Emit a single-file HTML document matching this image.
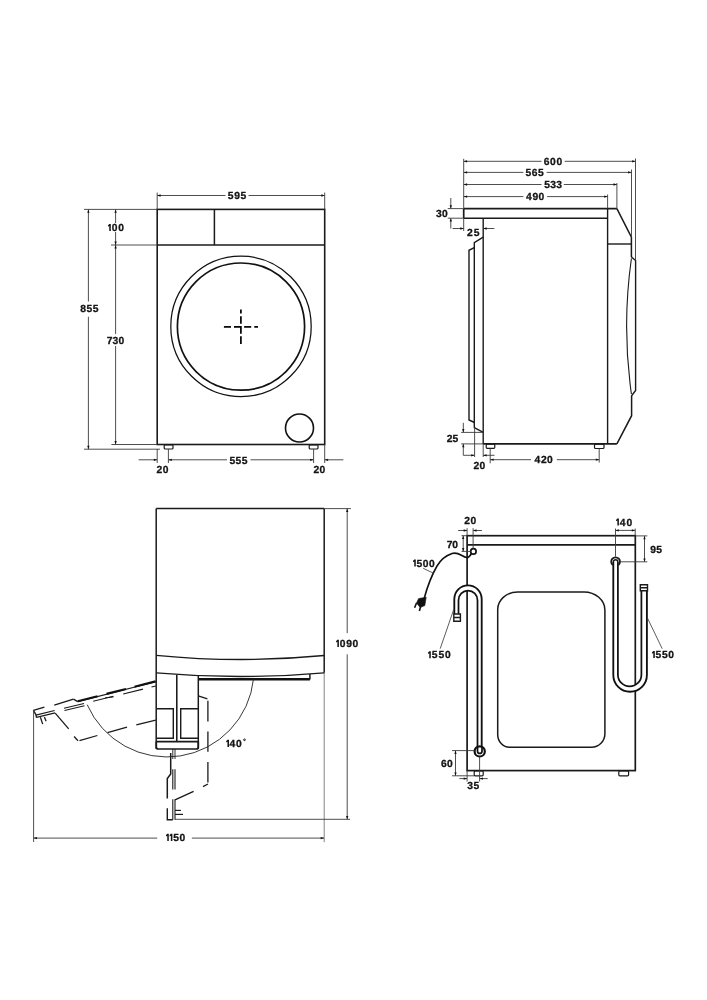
<!DOCTYPE html>
<html><head><meta charset="utf-8"><title>Washing machine dimensions</title>
<style>
html,body{margin:0;padding:0;background:#fff;width:707px;height:1000px;overflow:hidden}
svg{display:block;will-change:transform}
text{font-family:"Liberation Sans",sans-serif;font-weight:bold;font-size:10.3px;fill:#151515;stroke:#151515;stroke-width:0.3px;text-rendering:geometricPrecision}
.h{fill:none;stroke:none}
</style></head><body>
<svg width="707" height="1000" viewBox="0 0 707 1000" stroke-linecap="butt">

<rect x="157.2" y="209.4" width="167.5" height="235.1" rx="0" stroke="#1a1a1a" stroke-width="1.6" fill="none"/>
<line x1="157.2" y1="245" x2="324.7" y2="245" stroke="#1a1a1a" stroke-width="1.5"/>
<line x1="214.4" y1="209.4" x2="214.4" y2="245" stroke="#1a1a1a" stroke-width="1.5"/>
<circle cx="241" cy="326.4" r="70.2" stroke="#111" stroke-width="1.25" fill="none"/>
<circle cx="241" cy="326.6" r="63.6" stroke="#111" stroke-width="1.7" fill="none"/>
<line x1="223.9" y1="326.9" x2="231.0" y2="326.9" stroke="#000" stroke-width="1.7"/>
<line x1="244.1" y1="326.9" x2="251.2" y2="326.9" stroke="#000" stroke-width="1.7"/>
<line x1="254.3" y1="326.9" x2="258.0" y2="326.9" stroke="#000" stroke-width="1.7"/>
<path d="M234 326.9 H240.9 V333.8" stroke="#000" stroke-width="1.7" fill="none"/>
<line x1="240.9" y1="309.5" x2="240.9" y2="313.6" stroke="#000" stroke-width="1.7"/>
<line x1="240.9" y1="316.3" x2="240.9" y2="323.7" stroke="#000" stroke-width="1.7"/>
<line x1="240.9" y1="336.2" x2="240.9" y2="343.9" stroke="#000" stroke-width="1.7"/>
<circle cx="299.5" cy="428" r="14" stroke="#111" stroke-width="1.6" fill="none"/>
<rect x="164.2" y="444.8" width="8.800000000000011" height="4.199999999999989" rx="1" stroke="#1a1a1a" stroke-width="1.2" fill="none"/>
<rect x="309.2" y="444.8" width="8.800000000000011" height="4.199999999999989" rx="1" stroke="#1a1a1a" stroke-width="1.2" fill="none"/>
<line x1="157.2" y1="195.5" x2="225.5" y2="195.5" stroke="#3a3a3a" stroke-width="0.9"/>
<line x1="248.5" y1="195.5" x2="324.7" y2="195.5" stroke="#3a3a3a" stroke-width="0.9"/>
<polygon points="157.20,195.50 160.60,194.35 160.60,196.65" fill="#111"/>
<polygon points="324.70,195.50 321.30,194.35 321.30,196.65" fill="#111"/>
<line x1="157.2" y1="192.6" x2="157.2" y2="209.4" stroke="#3a3a3a" stroke-width="0.9"/>
<line x1="324.7" y1="192.6" x2="324.7" y2="209.4" stroke="#3a3a3a" stroke-width="0.9"/>
<text x="227.76 234.15 240.48" y="199.29">595</text>
<line x1="88.4" y1="209.4" x2="88.4" y2="301.5" stroke="#3a3a3a" stroke-width="0.9"/>
<line x1="88.4" y1="316.7" x2="88.4" y2="449.2" stroke="#3a3a3a" stroke-width="0.9"/>
<polygon points="88.40,209.40 87.25,212.80 89.55,212.80" fill="#111"/>
<polygon points="88.40,449.20 87.25,445.80 89.55,445.80" fill="#111"/>
<line x1="84" y1="209.4" x2="157.2" y2="209.4" stroke="#3a3a3a" stroke-width="0.9"/>
<line x1="84" y1="449.2" x2="160" y2="449.2" stroke="#3a3a3a" stroke-width="0.9"/>
<text x="80.15 86.40 92.68" y="311.54">855</text>
<line x1="115.6" y1="209.4" x2="115.6" y2="223" stroke="#3a3a3a" stroke-width="0.9"/>
<line x1="115.6" y1="232" x2="115.6" y2="245" stroke="#3a3a3a" stroke-width="0.9"/>
<polygon points="115.60,209.40 114.45,212.80 116.75,212.80" fill="#111"/>
<polygon points="115.60,245.00 114.45,241.60 116.75,241.60" fill="#111"/>
<line x1="111" y1="245" x2="157.2" y2="245" stroke="#3a3a3a" stroke-width="0.9"/>
<text x="107.25 111.67 118.22" y="231.04"><tspan class="h">1</tspan>00</text><g fill="#151515"><path d="M109.26 223.96 H110.80 V231.04 H109.26 V225.92 L108.18 226.67 L107.90 225.45 Z"/></g>
<line x1="115.6" y1="245" x2="115.6" y2="334.1" stroke="#3a3a3a" stroke-width="0.9"/>
<line x1="115.6" y1="346" x2="115.6" y2="444.5" stroke="#3a3a3a" stroke-width="0.9"/>
<polygon points="115.60,245.00 114.45,248.40 116.75,248.40" fill="#111"/>
<polygon points="115.60,444.50 114.45,441.10 116.75,441.10" fill="#111"/>
<line x1="111.4" y1="444.5" x2="157.2" y2="444.5" stroke="#3a3a3a" stroke-width="0.9"/>
<text x="106.63 112.62 118.52" y="343.54">730</text>
<line x1="138.6" y1="459.8" x2="157.2" y2="459.8" stroke="#3a3a3a" stroke-width="0.9"/>
<polygon points="157.20,459.80 153.80,458.65 153.80,460.95" fill="#111"/>
<line x1="168.4" y1="459.8" x2="227" y2="459.8" stroke="#3a3a3a" stroke-width="0.9"/>
<polygon points="168.40,459.80 171.80,458.65 171.80,460.95" fill="#111"/>
<line x1="250.5" y1="459.8" x2="313.6" y2="459.8" stroke="#3a3a3a" stroke-width="0.9"/>
<polygon points="313.60,459.80 310.20,458.65 310.20,460.95" fill="#111"/>
<line x1="324.7" y1="459.8" x2="343.4" y2="459.8" stroke="#3a3a3a" stroke-width="0.9"/>
<polygon points="324.70,459.80 328.10,458.65 328.10,460.95" fill="#111"/>
<line x1="157.2" y1="449" x2="157.2" y2="463" stroke="#3a3a3a" stroke-width="0.9"/>
<line x1="168.4" y1="449" x2="168.4" y2="463" stroke="#3a3a3a" stroke-width="0.9"/>
<line x1="313.6" y1="449" x2="313.6" y2="463" stroke="#3a3a3a" stroke-width="0.9"/>
<line x1="324.7" y1="444.5" x2="324.7" y2="463" stroke="#3a3a3a" stroke-width="0.9"/>
<text x="156.62 162.72" y="472.84">20</text>
<text x="229.56 235.62 241.68" y="464.34">555</text>
<text x="313.42 319.42" y="472.89">20</text>
<line x1="463.7" y1="208.6" x2="616.9" y2="208.6" stroke="#1a1a1a" stroke-width="1.7"/>
<line x1="463.7" y1="208.6" x2="463.7" y2="218.2" stroke="#1a1a1a" stroke-width="1.7"/>
<line x1="463.7" y1="218.2" x2="607.6" y2="218.2" stroke="#1a1a1a" stroke-width="1.4"/>
<path d="M616.9 208.6 L631.4 237.2 V257" stroke="#1a1a1a" stroke-width="1.5" fill="none"/>
<line x1="607.6" y1="244" x2="631.4" y2="244" stroke="#1a1a1a" stroke-width="1.4"/>
<line x1="607.6" y1="208.6" x2="607.6" y2="443.9" stroke="#1a1a1a" stroke-width="1.4"/>
<line x1="483.2" y1="218.2" x2="483.2" y2="443.9" stroke="#1a1a1a" stroke-width="1.4"/>
<line x1="483.2" y1="443.9" x2="616.9" y2="443.9" stroke="#1a1a1a" stroke-width="1.7"/>
<path d="M616.9 443.9 L631.6 415.7 V396" stroke="#1a1a1a" stroke-width="1.5" fill="none"/>
<path d="M631.4 257 L635.6 260.5 V390.5 L631.4 396" stroke="#1a1a1a" stroke-width="1.4" fill="none"/>
<path d="M631.4 258.5 Q621.8 326 631.4 394" stroke="#1a1a1a" stroke-width="1.1" fill="none"/>
<path d="M483.2 237.2 L474.3 242.6 V427.5 L483.2 432.4" stroke="#1a1a1a" stroke-width="1.4" fill="none"/>
<path d="M474.3 247.7 L469 250.3 V420 L474.5 422.5" stroke="#1a1a1a" stroke-width="1.4" fill="none"/>
<rect x="486.2" y="444.2" width="8.600000000000023" height="4.100000000000023" rx="1" stroke="#1a1a1a" stroke-width="1.2" fill="none"/>
<rect x="594.5" y="444.2" width="9.5" height="4.300000000000011" rx="1" stroke="#1a1a1a" stroke-width="1.2" fill="none"/>
<line x1="463.7" y1="161.3" x2="541.5" y2="161.3" stroke="#3a3a3a" stroke-width="0.9"/>
<line x1="564.7" y1="161.3" x2="635.5" y2="161.3" stroke="#3a3a3a" stroke-width="0.9"/>
<polygon points="463.70,161.30 467.10,160.15 467.10,162.45" fill="#111"/>
<polygon points="635.50,161.30 632.10,160.15 632.10,162.45" fill="#111"/>
<text x="543.70 550.08 556.42" y="164.99">600</text>
<line x1="463.7" y1="172.4" x2="523.4" y2="172.4" stroke="#3a3a3a" stroke-width="0.9"/>
<line x1="546.6" y1="172.4" x2="631.5" y2="172.4" stroke="#3a3a3a" stroke-width="0.9"/>
<polygon points="463.70,172.40 467.10,171.25 467.10,173.55" fill="#111"/>
<polygon points="631.50,172.40 628.10,171.25 628.10,173.55" fill="#111"/>
<text x="525.56 531.78 537.98" y="176.24">565</text>
<line x1="463.7" y1="184.5" x2="541.5" y2="184.5" stroke="#3a3a3a" stroke-width="0.9"/>
<line x1="563.8" y1="184.5" x2="616.9" y2="184.5" stroke="#3a3a3a" stroke-width="0.9"/>
<polygon points="463.70,184.50 467.10,183.35 467.10,185.65" fill="#111"/>
<polygon points="616.90,184.50 613.50,183.35 613.50,185.65" fill="#111"/>
<text x="544.26 550.26 556.17" y="188.19">533</text>
<line x1="463.7" y1="196.6" x2="523.4" y2="196.6" stroke="#3a3a3a" stroke-width="0.9"/>
<line x1="547.1" y1="196.6" x2="607.6" y2="196.6" stroke="#3a3a3a" stroke-width="0.9"/>
<polygon points="463.70,196.60 467.10,195.45 467.10,197.75" fill="#111"/>
<polygon points="607.60,196.60 604.20,195.45 604.20,197.75" fill="#111"/>
<text x="526.12 532.46 538.42" y="200.49">490</text>
<line x1="463.7" y1="158.8" x2="463.7" y2="208.6" stroke="#3a3a3a" stroke-width="0.9"/>
<line x1="635.5" y1="158.5" x2="635.5" y2="260.5" stroke="#3a3a3a" stroke-width="0.9"/>
<line x1="631.5" y1="169.5" x2="631.5" y2="237.2" stroke="#3a3a3a" stroke-width="0.9"/>
<line x1="616.9" y1="183" x2="616.9" y2="208.6" stroke="#3a3a3a" stroke-width="0.9"/>
<line x1="607.6" y1="194.5" x2="607.6" y2="208.6" stroke="#3a3a3a" stroke-width="0.9"/>
<line x1="450.8" y1="198" x2="450.8" y2="208.6" stroke="#3a3a3a" stroke-width="0.9"/>
<polygon points="450.80,208.60 449.65,205.20 451.95,205.20" fill="#111"/>
<line x1="450.8" y1="218.2" x2="450.8" y2="228.5" stroke="#3a3a3a" stroke-width="0.9"/>
<polygon points="450.80,218.20 449.65,221.60 451.95,221.60" fill="#111"/>
<line x1="447.7" y1="208.6" x2="463.7" y2="208.6" stroke="#3a3a3a" stroke-width="0.9"/>
<line x1="447.7" y1="218.2" x2="463.7" y2="218.2" stroke="#3a3a3a" stroke-width="0.9"/>
<text x="436.04 442.12" y="216.84">30</text>
<line x1="452.6" y1="228.5" x2="463.7" y2="228.5" stroke="#3a3a3a" stroke-width="0.9"/>
<polygon points="463.70,228.50 460.30,227.35 460.30,229.65" fill="#111"/>
<line x1="483.2" y1="228.5" x2="494.4" y2="228.5" stroke="#3a3a3a" stroke-width="0.9"/>
<polygon points="483.20,228.50 486.60,227.35 486.60,229.65" fill="#111"/>
<line x1="463.7" y1="218.2" x2="463.7" y2="231" stroke="#3a3a3a" stroke-width="0.9"/>
<text x="466.92 473.78" y="236.44">25</text>
<line x1="463.3" y1="422.8" x2="463.3" y2="432.4" stroke="#3a3a3a" stroke-width="0.9"/>
<polygon points="463.30,432.40 462.15,429.00 464.45,429.00" fill="#111"/>
<line x1="463.3" y1="443.9" x2="463.3" y2="455.3" stroke="#3a3a3a" stroke-width="0.9"/>
<polygon points="463.30,443.90 462.15,447.30 464.45,447.30" fill="#111"/>
<line x1="461.2" y1="432.4" x2="483.2" y2="432.4" stroke="#3a3a3a" stroke-width="0.9"/>
<line x1="461.2" y1="443.9" x2="483.2" y2="443.9" stroke="#3a3a3a" stroke-width="0.9"/>
<text x="446.72 452.38" y="442.19">25</text>
<line x1="463.3" y1="455.3" x2="474.6" y2="455.3" stroke="#3a3a3a" stroke-width="0.9"/>
<polygon points="474.60,455.30 471.20,454.15 471.20,456.45" fill="#111"/>
<line x1="483.2" y1="455.3" x2="494.5" y2="455.3" stroke="#3a3a3a" stroke-width="0.9"/>
<polygon points="483.20,455.30 486.60,454.15 486.60,456.45" fill="#111"/>
<line x1="474.6" y1="427.5" x2="474.6" y2="457" stroke="#3a3a3a" stroke-width="0.9"/>
<line x1="483.2" y1="443.9" x2="483.2" y2="457" stroke="#3a3a3a" stroke-width="0.9"/>
<text x="473.62 479.42" y="468.99">20</text>
<line x1="490.2" y1="459.7" x2="531" y2="459.7" stroke="#3a3a3a" stroke-width="0.9"/>
<polygon points="490.20,459.70 493.60,458.55 493.60,460.85" fill="#111"/>
<line x1="556.8" y1="459.7" x2="599.2" y2="459.7" stroke="#3a3a3a" stroke-width="0.9"/>
<polygon points="599.20,459.70 595.80,458.55 595.80,460.85" fill="#111"/>
<line x1="490.2" y1="448.3" x2="490.2" y2="463.3" stroke="#3a3a3a" stroke-width="0.9"/>
<line x1="599.2" y1="448.5" x2="599.2" y2="462.6" stroke="#3a3a3a" stroke-width="0.9"/>
<text x="534.42 540.97 547.12" y="463.39">420</text>
<line x1="156.2" y1="508.6" x2="324.2" y2="508.6" stroke="#1a1a1a" stroke-width="1.5"/>
<line x1="156.2" y1="508.6" x2="156.2" y2="749" stroke="#1a1a1a" stroke-width="1.5"/>
<line x1="324.2" y1="508.6" x2="324.2" y2="672.8" stroke="#1a1a1a" stroke-width="1.5"/>
<line x1="324.2" y1="672.8" x2="324.2" y2="842.2" stroke="#777" stroke-width="0.9"/>
<path d="M156.2 655.3 Q240.2 663.6 324.2 655.5" stroke="#1a1a1a" stroke-width="1.3" fill="none"/>
<path d="M156.2 672.8 Q240.2 680.2 324.2 672.8" stroke="#1a1a1a" stroke-width="1.3" fill="none"/>
<line x1="198" y1="679.2" x2="309.9" y2="679.2" stroke="#111" stroke-width="2.4"/>
<path d="M309.9 679.6 V674.1" stroke="#1a1a1a" stroke-width="1.5" fill="none"/>
<line x1="198.3" y1="675.5" x2="198.3" y2="749" stroke="#1a1a1a" stroke-width="1.5"/>
<line x1="176.8" y1="675" x2="176.8" y2="741.6" stroke="#111" stroke-width="1.5"/>
<path d="M156.3 708.8 H173.3 V738.2 H156.3" stroke="#1a1a1a" stroke-width="1.4" fill="none"/>
<path d="M198.3 708.8 H180.7 V738.2 H198.3" stroke="#1a1a1a" stroke-width="1.4" fill="none"/>
<line x1="156.3" y1="741.6" x2="198.3" y2="741.6" stroke="#1a1a1a" stroke-width="1.6"/>
<path d="M156.3 741.6 V747 Q156.3 749 158.3 749 H196.3 Q198.3 749 198.3 747 V741.6" stroke="#1a1a1a" stroke-width="1.7" fill="none"/>
<line x1="172.8" y1="749" x2="172.8" y2="759" stroke="#1a1a1a" stroke-width="0.9"/>
<line x1="175" y1="749" x2="175" y2="759" stroke="#1a1a1a" stroke-width="0.9"/>
<line x1="198.3" y1="695.8" x2="207.4" y2="698.8" stroke="#1a1a1a" stroke-width="1.3"/>
<line x1="207.9" y1="700.8" x2="207.9" y2="721.6" stroke="#1a1a1a" stroke-width="1.3"/>
<line x1="207.9" y1="731.5" x2="207.9" y2="751.8" stroke="#1a1a1a" stroke-width="1.3"/>
<line x1="207.9" y1="762" x2="207.9" y2="782.4" stroke="#1a1a1a" stroke-width="1.3"/>
<line x1="208" y1="784" x2="203" y2="786.6" stroke="#1a1a1a" stroke-width="1.3"/>
<line x1="193.6" y1="791.3" x2="175" y2="799.8" stroke="#1a1a1a" stroke-width="1.3"/>
<line x1="172.8" y1="799.3" x2="172.8" y2="819.7" stroke="#1a1a1a" stroke-width="1.1"/>
<line x1="175" y1="799.3" x2="175" y2="819.7" stroke="#1a1a1a" stroke-width="1.1"/>
<line x1="175" y1="810.4" x2="180.9" y2="810.4" stroke="#1a1a1a" stroke-width="1.2"/>
<line x1="175" y1="814.4" x2="183" y2="814.4" stroke="#1a1a1a" stroke-width="1.2"/>
<path d="M170.7 753 V773.9 L167.3 778.5 V798.5" stroke="#1a1a1a" stroke-width="1.5" fill="none"/>
<path d="M167.3 808.2 V819.7 H172.8" stroke="#1a1a1a" stroke-width="1.4" fill="none"/>
<line x1="172.8" y1="769.2" x2="172.8" y2="789.6" stroke="#1a1a1a" stroke-width="1.1"/>
<line x1="175" y1="769.2" x2="175" y2="789.6" stroke="#1a1a1a" stroke-width="1.1"/>
<line x1="77.7" y1="701.6" x2="155.6" y2="681.7" stroke="#1a1a1a" stroke-width="1.1"/>
<line x1="77.7" y1="701.3000000000001" x2="97.5" y2="696.24" stroke="#111" stroke-width="2.2"/>
<line x1="106.5" y1="693.94" x2="126" y2="688.96" stroke="#111" stroke-width="2.2"/>
<line x1="134.5" y1="686.7900000000001" x2="155.6" y2="681.4000000000001" stroke="#111" stroke-width="2.2"/>
<line x1="33.4" y1="710.3" x2="44.4" y2="707.2" stroke="#1a1a1a" stroke-width="1.4"/>
<line x1="54.3" y1="705.2" x2="73.4" y2="699.1" stroke="#1a1a1a" stroke-width="1.4"/>
<line x1="73.4" y1="699.1" x2="77.7" y2="701.6" stroke="#1a1a1a" stroke-width="1.4"/>
<line x1="35.9" y1="715.1" x2="54.6" y2="710.57" stroke="#1a1a1a" stroke-width="1.1"/>
<line x1="36.4" y1="717.4" x2="55.1" y2="712.87" stroke="#1a1a1a" stroke-width="1.1"/>
<line x1="64" y1="708.29" x2="84" y2="703.44" stroke="#1a1a1a" stroke-width="1.1"/>
<line x1="64.5" y1="710.59" x2="84.5" y2="705.74" stroke="#1a1a1a" stroke-width="1.1"/>
<line x1="93.2" y1="701.2" x2="113.3" y2="696.33" stroke="#1a1a1a" stroke-width="1.1"/>
<line x1="123.2" y1="693.93" x2="143" y2="689.13" stroke="#1a1a1a" stroke-width="1.1"/>
<line x1="151.5" y1="687.07" x2="155.9" y2="686.0" stroke="#1a1a1a" stroke-width="1.1"/>
<line x1="105" y1="697.9" x2="113.6" y2="696.9" stroke="#1a1a1a" stroke-width="1.0"/>
<path d="M33.4 710.3 L35.9 714.6 L36.5 717.6" stroke="#1a1a1a" stroke-width="1.3" fill="none"/>
<line x1="40.4" y1="717.3" x2="42.7" y2="724.1" stroke="#1a1a1a" stroke-width="1.3"/>
<line x1="44.4" y1="717.0" x2="46.1" y2="721.3" stroke="#1a1a1a" stroke-width="1.3"/>
<line x1="55.2" y1="713.1" x2="68.7" y2="728.8" stroke="#1a1a1a" stroke-width="1.3"/>
<line x1="74.1" y1="736.5" x2="78" y2="740.7" stroke="#1a1a1a" stroke-width="1.3"/>
<line x1="79.5" y1="740.7" x2="97.4" y2="735.5" stroke="#1a1a1a" stroke-width="1.3"/>
<line x1="107.5" y1="732.7" x2="127" y2="727.2" stroke="#1a1a1a" stroke-width="1.3"/>
<line x1="136.3" y1="724.9" x2="155.8" y2="720.2" stroke="#1a1a1a" stroke-width="1.3"/>
<path d="M253.5 678.9 A87 87 0 0 1 87.2 704.7" stroke="#222" stroke-width="0.9" fill="none"/>
<text x="225.45 229.56 235.92" y="746.89"><tspan class="h">1</tspan>40</text><g fill="#151515"><path d="M227.46 739.81 H229.00 V746.89 H227.46 V741.77 L226.38 742.52 L226.10 741.30 Z"/></g>
<circle cx="244.5" cy="739.8" r="0.85" stroke="#111" stroke-width="1.0" fill="none"/>
<line x1="347.2" y1="508.6" x2="347.2" y2="633.1" stroke="#3a3a3a" stroke-width="0.9"/>
<line x1="347.2" y1="654.3" x2="347.2" y2="819.3" stroke="#3a3a3a" stroke-width="0.9"/>
<polygon points="347.20,508.60 346.05,512.00 348.35,512.00" fill="#111"/>
<polygon points="347.20,819.30 346.05,815.90 348.35,815.90" fill="#111"/>
<line x1="324.2" y1="508.6" x2="350.9" y2="508.6" stroke="#3a3a3a" stroke-width="0.9"/>
<line x1="175" y1="819.3" x2="350" y2="819.3" stroke="#3a3a3a" stroke-width="0.9"/>
<text x="335.35 339.66 346.14 352.62" y="646.94"><tspan class="h">1</tspan>090</text><g fill="#151515"><path d="M337.36 639.86 H338.90 V646.94 H337.36 V641.82 L336.28 642.57 L336.00 641.35 Z"/></g>
<line x1="33.6" y1="838.1" x2="157.2" y2="838.1" stroke="#3a3a3a" stroke-width="0.9"/>
<line x1="191.9" y1="838.1" x2="324.1" y2="838.1" stroke="#3a3a3a" stroke-width="0.9"/>
<polygon points="33.60,838.10 37.00,836.95 37.00,839.25" fill="#111"/>
<polygon points="324.10,838.10 320.70,836.95 320.70,839.25" fill="#111"/>
<line x1="33.6" y1="710" x2="33.6" y2="842" stroke="#3a3a3a" stroke-width="0.9"/>
<text x="165.25 168.84 173.14 179.62" y="840.89"><tspan class="h">1</tspan><tspan class="h">1</tspan>50</text><g fill="#151515"><path d="M167.26 833.81 H168.80 V840.89 H167.26 V835.77 L166.18 836.52 L165.90 835.30 Z"/><path d="M170.85 833.81 H172.40 V840.89 H170.85 V835.77 L169.77 836.52 L169.49 835.30 Z"/></g>
<rect x="467.1" y="535.7" width="168.19999999999993" height="234.89999999999998" rx="0" stroke="#1a1a1a" stroke-width="1.7" fill="none"/>
<line x1="467.1" y1="544.9" x2="635.3" y2="544.9" stroke="#1a1a1a" stroke-width="1.6"/>
<path d="M517.7 592 H584 A21 18 0 0 1 604.9 610 V733.5 A13.5 13.5 0 0 1 591.4 747.2 H509.5 A11.8 12.8 0 0 1 497.7 734.4 V609.5 A20 17.5 0 0 1 517.7 592 Z" stroke="#1a1a1a" stroke-width="1.5" fill="none"/>
<rect x="474.2" y="770.9" width="9.0" height="4.899999999999977" rx="1" stroke="#1a1a1a" stroke-width="1.2" fill="none"/>
<rect x="618.8" y="770.9" width="9.800000000000068" height="4.899999999999977" rx="1" stroke="#1a1a1a" stroke-width="1.2" fill="none"/>
<path d="M454.3 614 V599.1 A13.7 13.7 0 0 1 481.7 599.1 V751.4 H477.5 V600.2 A9.5 9.5 0 0 0 458.5 600.2 V614 Z" stroke="none" stroke-width="0" fill="#fff"/>
<circle cx="479.7" cy="751.4" r="5.4" fill="#fff"/>
<path d="M454.3 614 V599.1 A13.7 13.7 0 0 1 481.7 599.1 V746.5" stroke="#111" stroke-width="1.85" fill="none"/>
<path d="M458.5 614 V600.2 A9.5 9.5 0 0 1 477.5 600.2 V751.2 A2.25 2.25 0 0 0 482 751.2 V746" stroke="#111" stroke-width="1.75" fill="none"/>
<circle cx="479.7" cy="751.4" r="5.1" stroke="#111" stroke-width="2.2" fill="none"/>
<path d="M453.8 614 H460.4 V621.2 H453.8 Z M453.8 617.5 H460.4" stroke="#1a1a1a" stroke-width="1.4" fill="none"/>
<path d="M613.3 562 V674.9 A16.8 16.8 0 0 0 646.9 674.9 V590.8 H641.4 V674.65 A11.75 11.75 0 0 1 617.9 674.65 V562 Z" stroke="none" stroke-width="0" fill="#fff"/>
<path d="M613.3 562 V674.9 A16.8 16.8 0 0 0 646.9 674.9 V590.8" stroke="#111" stroke-width="1.85" fill="none"/>
<path d="M617.9 562 V674.65 A11.75 11.75 0 0 0 641.4 674.65 V590.8" stroke="#111" stroke-width="1.75" fill="none"/>
<path d="M613.3 562 A2.3 2.3 0 0 1 617.9 562" stroke="#1a1a1a" stroke-width="1.5" fill="none"/>
<path d="M612.77 565.07 A4.4 4.4 0 1 1 618.43 565.07" stroke="#1a1a1a" stroke-width="1.8" fill="none"/>
<path d="M640.3 584.7 H647.5 V590.8 H640.3 Z M640.3 587.7 H647.5" stroke="#1a1a1a" stroke-width="1.4" fill="none"/>
<circle cx="473.4" cy="551.4" r="2.7" stroke="#111" stroke-width="1.7" fill="none"/>
<path d="M471.5 553.5 C470 556 468 558 466.5 557.5 C462 556.5 458 551.5 452 553.5 C446 555.5 440 561 437 566 C433 573 427 588 424.3 598" stroke="#111" stroke-width="1.6" fill="none"/>
<path d="M418.6 598.6 L426.2 597.2 L424.8 605.6 L420.2 607.5 L416.5 603 Z" stroke="#111" stroke-width="0.6" fill="#111"/>
<line x1="416.5" y1="603" x2="414.6" y2="607.8" stroke="#111" stroke-width="1.6"/>
<line x1="420.6" y1="606.5" x2="419.4" y2="611" stroke="#111" stroke-width="1.6"/>
<line x1="423.2" y1="568.3" x2="433.9" y2="573.4" stroke="#333" stroke-width="0.8"/>
<line x1="440.2" y1="648.7" x2="453.6" y2="609.8" stroke="#333" stroke-width="0.8"/>
<line x1="647.5" y1="618.1" x2="662.2" y2="648.7" stroke="#333" stroke-width="0.8"/>
<text x="412.25 416.40 422.73 428.92" y="566.54"><tspan class="h">1</tspan>500</text><g fill="#151515"><path d="M414.26 559.46 H415.80 V566.54 H414.26 V561.42 L413.18 562.17 L412.90 560.95 Z"/></g>
<text x="427.25 431.69 438.40 445.02" y="658.34"><tspan class="h">1</tspan>550</text><g fill="#151515"><path d="M429.26 651.26 H430.80 V658.34 H429.26 V653.22 L428.18 653.97 L427.90 652.75 Z"/></g>
<text x="651.25 655.46 661.94 668.32" y="658.09"><tspan class="h">1</tspan>550</text><g fill="#151515"><path d="M653.26 651.01 H654.80 V658.09 H653.26 V652.97 L652.18 653.72 L651.90 652.50 Z"/></g>
<line x1="458.1" y1="530.5" x2="467.1" y2="530.5" stroke="#3a3a3a" stroke-width="0.9"/>
<polygon points="467.10,530.50 463.70,529.35 463.70,531.65" fill="#111"/>
<line x1="473.1" y1="530.5" x2="481.9" y2="530.5" stroke="#3a3a3a" stroke-width="0.9"/>
<polygon points="473.10,530.50 476.50,529.35 476.50,531.65" fill="#111"/>
<line x1="467.1" y1="528.2" x2="467.1" y2="535.7" stroke="#3a3a3a" stroke-width="0.9"/>
<line x1="473.1" y1="528.2" x2="473.1" y2="548.6" stroke="#3a3a3a" stroke-width="0.9"/>
<text x="464.22 470.42" y="524.24">20</text>
<line x1="463.2" y1="535.7" x2="463.2" y2="551.4" stroke="#3a3a3a" stroke-width="0.9"/>
<polygon points="463.20,535.70 462.05,539.10 464.35,539.10" fill="#111"/>
<polygon points="463.20,551.40 462.05,548.00 464.35,548.00" fill="#111"/>
<line x1="461.5" y1="535.7" x2="467.1" y2="535.7" stroke="#3a3a3a" stroke-width="0.9"/>
<line x1="461.5" y1="551.4" x2="470.6" y2="551.4" stroke="#3a3a3a" stroke-width="0.9"/>
<text x="446.83 452.32" y="548.14">70</text>
<line x1="615.4" y1="530.4" x2="635.2" y2="530.4" stroke="#3a3a3a" stroke-width="0.9"/>
<polygon points="615.40,530.40 618.80,529.25 618.80,531.55" fill="#111"/>
<polygon points="635.20,530.40 631.80,529.25 631.80,531.55" fill="#111"/>
<line x1="615.5" y1="528.5" x2="615.5" y2="556.6" stroke="#3a3a3a" stroke-width="0.9"/>
<line x1="635.2" y1="528.5" x2="635.2" y2="535.7" stroke="#3a3a3a" stroke-width="0.9"/>
<text x="615.35 619.76 626.42" y="525.59"><tspan class="h">1</tspan>40</text><g fill="#151515"><path d="M617.36 518.51 H618.90 V525.59 H617.36 V520.47 L616.28 521.22 L616.00 520.00 Z"/></g>
<line x1="644.5" y1="535.9" x2="644.5" y2="561.8" stroke="#3a3a3a" stroke-width="0.9"/>
<polygon points="644.50,535.90 643.35,539.30 645.65,539.30" fill="#111"/>
<polygon points="644.50,561.80 643.35,558.40 645.65,558.40" fill="#111"/>
<line x1="635.2" y1="535.9" x2="647.3" y2="535.9" stroke="#3a3a3a" stroke-width="0.9"/>
<line x1="621" y1="561.8" x2="647.3" y2="561.8" stroke="#3a3a3a" stroke-width="0.9"/>
<text x="650.32 656.18" y="553.04">95</text>
<line x1="455.5" y1="750.6" x2="455.5" y2="775.8" stroke="#3a3a3a" stroke-width="0.9"/>
<polygon points="455.50,750.60 454.35,754.00 456.65,754.00" fill="#111"/>
<polygon points="455.50,775.80 454.35,772.40 456.65,772.40" fill="#111"/>
<line x1="452" y1="750.6" x2="474.3" y2="750.6" stroke="#3a3a3a" stroke-width="0.9"/>
<line x1="452" y1="775.8" x2="474.2" y2="775.8" stroke="#3a3a3a" stroke-width="0.9"/>
<text x="440.90 447.02" y="766.94">60</text>
<line x1="459.4" y1="778.6" x2="467.1" y2="778.6" stroke="#3a3a3a" stroke-width="0.9"/>
<polygon points="467.10,778.60 463.70,777.45 463.70,779.75" fill="#111"/>
<line x1="479.6" y1="778.6" x2="487.7" y2="778.6" stroke="#3a3a3a" stroke-width="0.9"/>
<polygon points="479.60,778.60 483.00,777.45 483.00,779.75" fill="#111"/>
<line x1="467.1" y1="770.6" x2="467.1" y2="781.5" stroke="#3a3a3a" stroke-width="0.9"/>
<line x1="479.6" y1="757" x2="479.6" y2="781.5" stroke="#3a3a3a" stroke-width="0.9"/>
<text x="467.34 473.48" y="788.94">35</text>
</svg>
</body></html>
